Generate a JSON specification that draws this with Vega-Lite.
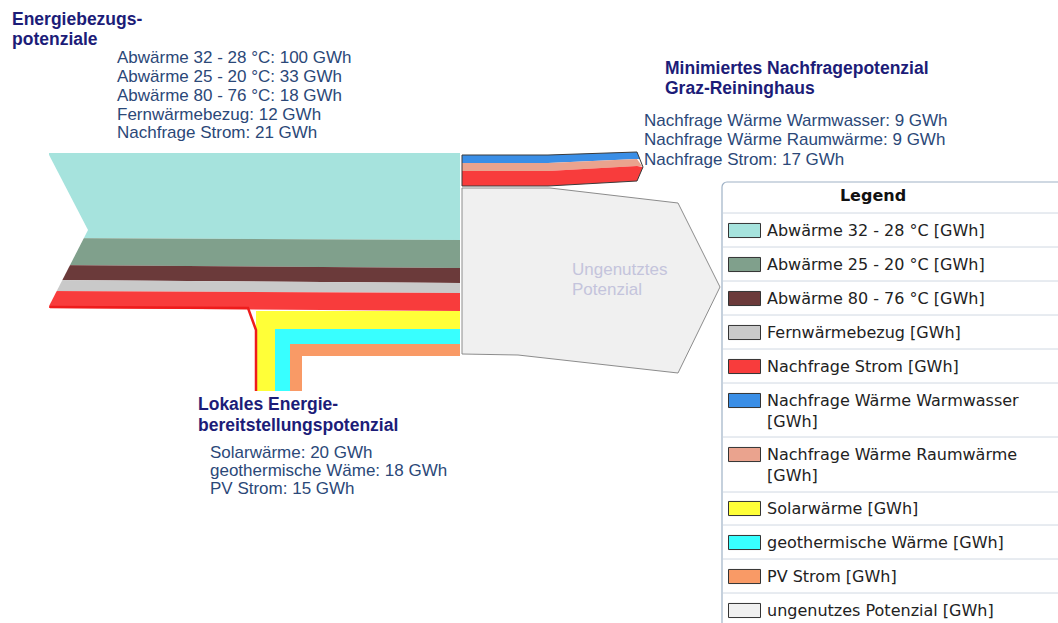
{
  "$schema": "https://vega.github.io/schema/vega-lite/v6.json",
  "width": 1058,
  "height": 623,
  "padding": 0,
  "autosize": {"type": "none"},
  "background": "#ffffff",
  "config": {"view": {"stroke": null}},
  "datasets": {
    "bands": [
      {"id": "in1", "cat": "Abwärme 32 - 28 °C [GWh]", "x": 49, "y": 153, "y2": 238},
      {"id": "in1", "cat": "Abwärme 32 - 28 °C [GWh]", "x": 460, "y": 153, "y2": 240},
      {"id": "in2", "cat": "Abwärme 25 - 20 °C [GWh]", "x": 49, "y": 238, "y2": 265},
      {"id": "in2", "cat": "Abwärme 25 - 20 °C [GWh]", "x": 460, "y": 240, "y2": 268},
      {"id": "in3", "cat": "Abwärme 80 - 76 °C [GWh]", "x": 49, "y": 265, "y2": 280},
      {"id": "in3", "cat": "Abwärme 80 - 76 °C [GWh]", "x": 460, "y": 268, "y2": 283},
      {"id": "in4", "cat": "Fernwärmebezug [GWh]", "x": 49, "y": 280, "y2": 291},
      {"id": "in4", "cat": "Fernwärmebezug [GWh]", "x": 460, "y": 283, "y2": 293},
      {"id": "in5", "cat": "Nachfrage Strom [GWh]", "x": 49, "y": 291, "y2": 308},
      {"id": "in5", "cat": "Nachfrage Strom [GWh]", "x": 460, "y": 293, "y2": 311},
      {"id": "loc1", "cat": "Solarwärme [GWh]", "x": 256, "y": 311, "y2": 391},
      {"id": "loc1", "cat": "Solarwärme [GWh]", "x": 275, "y": 311, "y2": 391},
      {"id": "loc1", "cat": "Solarwärme [GWh]", "x": 275.01, "y": 311, "y2": 329},
      {"id": "loc1", "cat": "Solarwärme [GWh]", "x": 460, "y": 311, "y2": 329},
      {"id": "loc2", "cat": "geothermische Wärme [GWh]", "x": 275, "y": 329, "y2": 391},
      {"id": "loc2", "cat": "geothermische Wärme [GWh]", "x": 290, "y": 329, "y2": 391},
      {"id": "loc2", "cat": "geothermische Wärme [GWh]", "x": 290.01, "y": 329, "y2": 344},
      {"id": "loc2", "cat": "geothermische Wärme [GWh]", "x": 460, "y": 329, "y2": 344},
      {"id": "loc3", "cat": "PV Strom [GWh]", "x": 290, "y": 344, "y2": 391},
      {"id": "loc3", "cat": "PV Strom [GWh]", "x": 302, "y": 344, "y2": 391},
      {"id": "loc3", "cat": "PV Strom [GWh]", "x": 302.01, "y": 344, "y2": 356},
      {"id": "loc3", "cat": "PV Strom [GWh]", "x": 460, "y": 344, "y2": 356},
      {"id": "out1", "cat": "Nachfrage Wärme Warmwasser [GWh]", "x": 462, "y": 155, "y2": 163},
      {"id": "out1", "cat": "Nachfrage Wärme Warmwasser [GWh]", "x": 548, "y": 155, "y2": 163},
      {"id": "out1", "cat": "Nachfrage Wärme Warmwasser [GWh]", "x": 637, "y": 152, "y2": 159},
      {"id": "out1", "cat": "Nachfrage Wärme Warmwasser [GWh]", "x": 640, "y": 159, "y2": 159},
      {"id": "out2", "cat": "Nachfrage Wärme Raumwärme [GWh]", "x": 462, "y": 163, "y2": 171},
      {"id": "out2", "cat": "Nachfrage Wärme Raumwärme [GWh]", "x": 548, "y": 163, "y2": 171},
      {"id": "out2", "cat": "Nachfrage Wärme Raumwärme [GWh]", "x": 637, "y": 159, "y2": 166},
      {"id": "out2", "cat": "Nachfrage Wärme Raumwärme [GWh]", "x": 642, "y": 166, "y2": 166},
      {"id": "out3", "cat": "Nachfrage Strom [GWh]", "x": 462, "y": 171, "y2": 186},
      {"id": "out3", "cat": "Nachfrage Strom [GWh]", "x": 548, "y": 171, "y2": 186},
      {"id": "out3", "cat": "Nachfrage Strom [GWh]", "x": 637, "y": 166, "y2": 181},
      {"id": "out3", "cat": "Nachfrage Strom [GWh]", "x": 643, "y": 167, "y2": 167},
      {"id": "rest", "cat": "ungenutzes Potenzial [GWh]", "x": 462, "y": 188, "y2": 354},
      {"id": "rest", "cat": "ungenutzes Potenzial [GWh]", "x": 518, "y": 188, "y2": 355},
      {"id": "rest", "cat": "ungenutzes Potenzial [GWh]", "x": 550, "y": 188, "y2": 358.6},
      {"id": "rest", "cat": "ungenutzes Potenzial [GWh]", "x": 678, "y": 203, "y2": 373},
      {"id": "rest", "cat": "ungenutzes Potenzial [GWh]", "x": 720, "y": 287, "y2": 287}
    ],
    "cut": [
      {"x": 47, "y": 151, "y2": 310},
      {"x": 88, "y": 230, "y2": 230}
    ],
    "outline": [
      {"id": "out", "x": 462, "y": 155, "y2": 186},
      {"id": "out", "x": 548, "y": 155, "y2": 186},
      {"id": "out", "x": 637, "y": 152, "y2": 181},
      {"id": "out", "x": 643, "y": 167, "y2": 167},
      {"id": "rest", "x": 462, "y": 188, "y2": 354},
      {"id": "rest", "x": 518, "y": 188, "y2": 355},
      {"id": "rest", "x": 550, "y": 188, "y2": 358.6},
      {"id": "rest", "x": 678, "y": 203, "y2": 373},
      {"id": "rest", "x": 720, "y": 287, "y2": 287}
    ],
    "redline": [
      {"s": 1, "x": 50, "y": 307},
      {"s": 2, "x": 248, "y": 308},
      {"s": 3, "x": 256, "y": 330},
      {"s": 4, "x": 256, "y": 391}
    ],
    "box": [
      {"x": 722, "x2": 1075, "y": 182, "y2": 640}
    ],
    "seps": [
      {"x": 723, "x2": 1058, "y": 213}, {"x": 723, "x2": 1058, "y": 247},
      {"x": 723, "x2": 1058, "y": 281}, {"x": 723, "x2": 1058, "y": 315},
      {"x": 723, "x2": 1058, "y": 349}, {"x": 723, "x2": 1058, "y": 383},
      {"x": 723, "x2": 1058, "y": 437}, {"x": 723, "x2": 1058, "y": 492},
      {"x": 723, "x2": 1058, "y": 525}, {"x": 723, "x2": 1058, "y": 559},
      {"x": 723, "x2": 1058, "y": 593}
    ],
    "labels": [
      {"k": "head", "t": "Energiebezugs-", "x": 12, "y": 25},
      {"k": "head", "t": "potenziale", "x": 12, "y": 45},
      {"k": "head", "t": "Minimiertes Nachfragepotenzial", "x": 665, "y": 74},
      {"k": "head", "t": "Graz-Reininghaus", "x": 665, "y": 94},
      {"k": "head", "t": "Lokales Energie-", "x": 198, "y": 410},
      {"k": "head", "t": "bereitstellungspotenzial", "x": 198, "y": 431},
      {"k": "value", "t": "Abwärme 32 - 28 °C: 100 GWh", "x": 117, "y": 63},
      {"k": "value", "t": "Abwärme 25 - 20 °C: 33 GWh", "x": 117, "y": 82},
      {"k": "value", "t": "Abwärme 80 - 76 °C: 18 GWh", "x": 117, "y": 101},
      {"k": "value", "t": "Fernwärmebezug: 12 GWh", "x": 117, "y": 120},
      {"k": "value", "t": "Nachfrage Strom: 21 GWh", "x": 117, "y": 138},
      {"k": "value", "t": "Nachfrage Wärme Warmwasser: 9 GWh", "x": 644, "y": 126},
      {"k": "value", "t": "Nachfrage Wärme Raumwärme: 9 GWh", "x": 644, "y": 145},
      {"k": "value", "t": "Nachfrage Strom: 17 GWh", "x": 644, "y": 165},
      {"k": "value", "t": "Solarwärme: 20 GWh", "x": 210, "y": 458},
      {"k": "value", "t": "geothermische Wäme: 18 GWh", "x": 210, "y": 476},
      {"k": "value", "t": "PV Strom: 15 GWh", "x": 210, "y": 494},
      {"k": "ghost", "t": "Ungenutztes", "x": 572, "y": 275},
      {"k": "ghost", "t": "Potenzial", "x": 572, "y": 295}
    ]
  },
  "encoding": {
    "x": {"field": "x", "type": "quantitative", "scale": {"domain": [0, 1058], "nice": false, "zero": false}, "axis": null},
    "y": {"field": "y", "type": "quantitative", "scale": {"domain": [0, 623], "nice": false, "zero": false, "reverse": true}, "axis": null}
  },
  "layer": [
    {
      "data": {"name": "box"},
      "mark": {"type": "rect", "fill": "#ffffff", "stroke": "#9fb2c6", "strokeWidth": 1.2, "cornerRadius": 5},
      "encoding": {"x2": {"field": "x2"}, "y2": {"field": "y2"}}
    },
    {
      "data": {"name": "seps"},
      "mark": {"type": "rule", "color": "#d0d8e2", "strokeWidth": 1},
      "encoding": {"x2": {"field": "x2"}}
    },
    {
      "data": {"name": "bands"},
      "mark": {"type": "area", "interpolate": "linear", "opacity": 1, "fillOpacity": 1},
      "encoding": {
        "y2": {"field": "y2"},
        "detail": {"field": "id"},
        "color": {
          "field": "cat",
          "type": "nominal",
          "scale": {
            "domain": [
              "Abwärme 32 - 28 °C [GWh]",
              "Abwärme 25 - 20 °C [GWh]",
              "Abwärme 80 - 76 °C [GWh]",
              "Fernwärmebezug [GWh]",
              "Nachfrage Strom [GWh]",
              "Nachfrage Wärme Warmwasser [GWh]",
              "Nachfrage Wärme Raumwärme [GWh]",
              "Solarwärme [GWh]",
              "geothermische Wärme [GWh]",
              "PV Strom [GWh]",
              "ungenutzes Potenzial [GWh]"
            ],
            "range": ["#a6e3dd", "#80a08c", "#6b3a3a", "#c9c9c9", "#f83c3c", "#3a8ee6", "#eaa38e", "#ffff38", "#38ffff", "#f99a66", "#f0f0f0"]
          },
          "legend": {
            "title": "Legend",
            "orient": "none",
            "legendX": 722,
            "legendY": 182,
            "titleAnchor": "middle",
            "titleAlign": "center",
            "titleFont": "DejaVu Sans",
            "titleFontSize": 16,
            "titleFontWeight": "bold",
            "titleColor": "#111111",
            "titlePadding": 10,
            "labelFont": "DejaVu Sans",
            "labelFontSize": 16,
            "labelColor": "#222222",
            "labelLimit": 400,
            "labelOffset": 6,
            "labelExpr": "indexof(datum.label, 'Nachfrage Wärme') == 0 ? [replace(datum.label, ' [GWh]', ''), '[GWh]'] : datum.label",
            "symbolType": "M-1,-0.44H1V0.44H-1Z",
            "symbolSize": 1024,
            "symbolStrokeColor": "#333333",
            "symbolStrokeWidth": 1,
            "symbolOpacity": 1,
            "rowPadding": 8,
            "padding": 6,
            "encode": {
              "labels": {"update": {"lineHeight": {"value": 21}}},
              "title": {"update": {"x": {"value": 168}}}
            }
          }
        }
      }
    },
    {
      "data": {"name": "cut"},
      "mark": {"type": "area", "color": "#ffffff", "opacity": 1},
      "encoding": {"y2": {"field": "y2"}}
    },
    {
      "data": {"name": "outline"},
      "transform": [{"filter": "datum.id == 'rest'"}],
      "mark": {"type": "area", "fillOpacity": 0, "stroke": "#8c8c8c", "strokeWidth": 1},
      "encoding": {"y2": {"field": "y2"}}
    },
    {
      "data": {"name": "outline"},
      "transform": [{"filter": "datum.id == 'out'"}],
      "mark": {"type": "area", "fillOpacity": 0, "stroke": "#3a3a3a", "strokeWidth": 1},
      "encoding": {"y2": {"field": "y2"}}
    },
    {
      "data": {"name": "redline"},
      "mark": {"type": "line", "color": "#ee1c1c", "strokeWidth": 2.5},
      "encoding": {"order": {"field": "s", "type": "quantitative"}}
    },
    {
      "data": {"name": "labels"},
      "transform": [{"filter": "datum.k == 'head'"}],
      "mark": {"type": "text", "align": "left", "baseline": "alphabetic", "font": "Liberation Sans", "fontSize": 17.5, "fontWeight": "bold", "color": "#1c1c78"},
      "encoding": {"text": {"field": "t"}}
    },
    {
      "data": {"name": "labels"},
      "transform": [{"filter": "datum.k == 'value'"}],
      "mark": {"type": "text", "align": "left", "baseline": "alphabetic", "font": "Liberation Sans", "fontSize": 17, "color": "#2b4878"},
      "encoding": {"text": {"field": "t"}}
    },
    {
      "data": {"name": "labels"},
      "transform": [{"filter": "datum.k == 'ghost'"}],
      "mark": {"type": "text", "align": "left", "baseline": "alphabetic", "font": "Liberation Sans", "fontSize": 17, "color": "#c4c4dc"},
      "encoding": {"text": {"field": "t"}}
    }
  ]
}
